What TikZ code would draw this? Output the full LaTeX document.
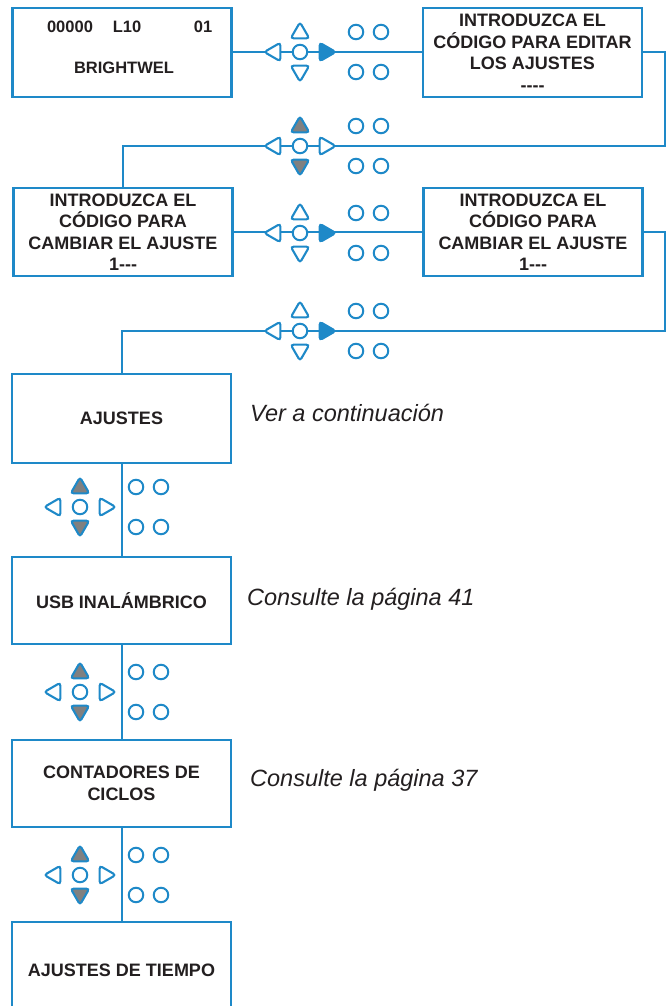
\documentclass[tikz,border=0pt]{standalone}
\usepackage{fontspec}
\setmainfont{Liberation Sans}[Ligatures=TeXOff]
\usepackage{tikz}
\usetikzlibrary{shapes.geometric,positioning}
\definecolor{keyblue}{RGB}{30,137,200}
\definecolor{keygray}{RGB}{128,128,128}
\definecolor{inkgray}{RGB}{35,31,32}
\tikzstyle{link} = [draw=keyblue, line width=2pt]
\tikzset{
    every node/.style={text=inkgray},
    keyring/.style={circle, draw=keyblue, line width=2pt, fill=white,
        minimum size=14.5pt, inner sep=0pt},
    keytri/.style={regular polygon, regular polygon sides=3, draw=keyblue,
        line width=2.1pt, rounded corners=3pt, minimum size=21.5pt, inner sep=0pt}
}
% one keypad: #1 name, #2 centre, #3 fill of up/down keys, #4 fill of right key
\newcommand{\keypad}[4]{
    \begin{scope}[shift={#2}]
        \node[keyring] (#1c) at (0,0) {};
        \node[keytri, fill=#3, shape border rotate=0] (#1u) at (0,-19) {};
        \node[keytri, fill=#3, shape border rotate=180] (#1d) at (0,19) {};
        \node[keytri, fill=white, shape border rotate=90] (#1l) at (-25,0) {};
        \node[keytri, fill=#4, shape border rotate=270] (#1r) at (25,0) {};
        \foreach \kx/\ky/\kn in {56/-20/a, 81/-20/b, 56/20/c, 81/20/d}
            \node[keyring] (#1\kn) at (\kx,\ky) {};
    \end{scope}
}

\begin{document}
\begin{tikzpicture}[x=1pt, y=-1pt]
    \tikzstyle{screen} = [draw=keyblue, line width=2.2pt, fill=white,
        align=center, inner sep=0pt, minimum width=219pt,
        font=\fontsize{18}{21.5}\selectfont\bfseries]
    \tikzstyle{small} = [font=\fontsize{16.5}{20}\selectfont\bfseries, inner sep=0pt]
    \tikzstyle{note} = [anchor=base west, inner sep=0pt,
        font=\fontsize{23.5}{28}\selectfont\itshape]

    \useasboundingbox (0,0) rectangle (669,1006);
    \clip (0,0) rectangle (669,1006);

    % screens of the code entry
    \node[screen, minimum height=89pt] (home) at (122,52.5) {};
    \node[small] (count) at (70,27) {00000};
    \node[small] (level) at (127,27) {L10};
    \node[small] (unit) at (203,27) {01};
    \node[small] (brand) at (124,68) {BRIGHTWEL};
    \node[screen, minimum height=89pt] (code) at (532.5,52.5)
        {INTRODUZCA EL\\CÓDIGO PARA EDITAR\\LOS AJUSTES\\----};
    \node[screen, minimum height=88pt] (chg1) at (123,232)
        {INTRODUZCA EL\\CÓDIGO PARA\\CAMBIAR EL AJUSTE\\1---};
    \node[screen, minimum height=88pt] (chg2) at (533,232)
        {INTRODUZCA EL\\CÓDIGO PARA\\CAMBIAR EL AJUSTE\\1---};

    % menu screens
    \node[screen, minimum height=89pt] (ajustes) at (121.5,418.5) {AJUSTES};
    \node[screen, minimum height=87pt] (usb) at (121.5,600.5) {USB INALÁMBRICO};
    \node[screen, minimum height=87pt] (ciclos) at (121.5,783.5) {CONTADORES DE\\CICLOS};
    \node[screen, minimum height=96pt] (tiempo) at (121.5,970) {AJUSTES DE TIEMPO};

    % notes
    \node[note] (seebelow) at (250,421) {Ver a continuación};
    \node[note] (page41) at (247,605) {Consulte la página 41};
    \node[note] (page37) at (250,786) {Consulte la página 37};

    % connections
    \coordinate (bend1) at (665,146);
    \coordinate (bend2) at (665,331);
    \draw[link] (home) -- (code);
    \draw[link] (code.east) -| (bend1) -| (chg1.north);
    \draw[link] (chg1) -- (chg2);
    \draw[link] (chg2.east) -| (bend2) -| (ajustes.north);
    \draw[link] (ajustes) -- (usb);
    \draw[link] (usb) -- (ciclos);
    \draw[link] (ciclos) -- (tiempo);

    % keypads
    \keypad{kpa}{(300,52)}{white}{keyblue}
    \keypad{kpb}{(300,146)}{keygray}{white}
    \keypad{kpc}{(300,233)}{white}{keyblue}
    \keypad{kpd}{(300,331)}{white}{keyblue}
    \keypad{kpe}{(80,507)}{keygray}{white}
    \keypad{kpf}{(80,692)}{keygray}{white}
    \keypad{kpg}{(80,875)}{keygray}{white}
\end{tikzpicture}
\end{document}
